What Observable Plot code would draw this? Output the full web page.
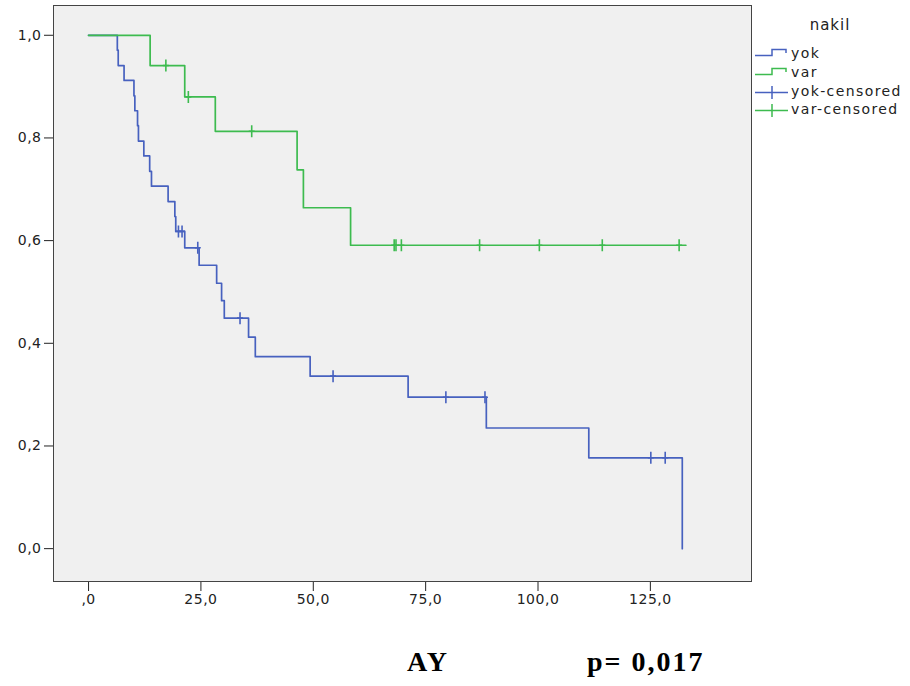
<!DOCTYPE html>
<html><head><meta charset="utf-8">
<script src="https://cdn.jsdelivr.net/npm/d3@7"></script>
<script src="https://cdn.jsdelivr.net/npm/@observablehq/plot@0.6"></script>
<style>
body{margin:0;background:#fff;}
#wrap{position:relative;width:910px;height:686px;font-family:"DejaVu Sans",sans-serif;}
#legend{position:absolute;left:750px;top:0;}
.foot{position:absolute;top:646px;font-family:"Liberation Serif","Times New Roman",serif;font-weight:bold;font-size:28px;letter-spacing:2px;color:#000;}
</style></head><body>
<div id="wrap"><div id="chart"></div>
<svg id="legend" width="160" height="130" font-family="DejaVu Sans" font-size="14" letter-spacing="1.4" fill="#222">
  <text x="80" y="30" text-anchor="middle" font-size="15" letter-spacing="1">nakil</text>
  <path d="M5,55.5H22V49.5H36V53" fill="none" stroke="#4761bf" stroke-width="1.5"/>
  <text x="41" y="58">yok</text>
  <path d="M5,74.5H22V68.5H36V72" fill="none" stroke="#3dbb4f" stroke-width="1.5"/>
  <text x="41" y="77">var</text>
  <path d="M5,92.5H38M22,86V99" fill="none" stroke="#4761bf" stroke-width="1.5"/>
  <text x="41" y="96">yok-censored</text>
  <path d="M5,110.5H38M22,104V117" fill="none" stroke="#3dbb4f" stroke-width="1.5"/>
  <text x="41" y="114">var-censored</text>
</svg>
<div class="foot" style="left:407px;">AY</div>
<div class="foot" style="left:587px;">p= 0,017</div>
</div>
<script>
// "yok" group (blue): Kaplan–Meier step points
const yokTime = [0, 6.4, 6.6, 7.9, 10.1, 10.3, 10.9, 11.1, 12.3, 13.6, 14.0, 17.7, 19.2, 19.4, 21.4, 24.6, 28.5, 29.6, 30.2, 35.6, 37.1, 49.3, 71.1, 88.5, 111.3, 132.1];
const yokSurv = [1.0, 0.971, 0.941, 0.912, 0.882, 0.853, 0.824, 0.794, 0.765, 0.735, 0.706, 0.676, 0.647, 0.618, 0.586, 0.552, 0.517, 0.483, 0.449, 0.412, 0.374, 0.336, 0.295, 0.235, 0.177, 0.0];
const yokCensTime = [20.0, 20.8, 24.3, 33.7, 54.4, 79.5, 88.2, 125.1, 128.3];
const yokCensSurv = [0.618, 0.618, 0.586, 0.449, 0.336, 0.295, 0.295, 0.177, 0.177];
// "var" group (green)
const varTime = [0, 13.7, 21.4, 28.2, 46.4, 47.8, 58.3, 132.9];
const varSurv = [1.0, 0.941, 0.880, 0.813, 0.738, 0.664, 0.591, 0.591];
const varCensTime = [17.2, 22.2, 36.3, 68.0, 68.4, 69.6, 87.0, 100.3, 114.3, 131.4];
const varCensSurv = [0.941, 0.880, 0.813, 0.591, 0.591, 0.591, 0.591, 0.591, 0.591, 0.591];
// ticks
const xTicks = [0, 25, 50, 75, 100, 125];
const yTicks = [0, 0.2, 0.4, 0.6, 0.8, 1.0];

const blue = "#4761bf", green = "#3dbb4f";
const zip = (a, b) => a.map((t, i) => ({t, s: b[i]}));
const yok = zip(yokTime, yokSurv), yokC = zip(yokCensTime, yokCensSurv);
const vr = zip(varTime, varSurv), vrC = zip(varCensTime, varCensSurv);
const comma = d => d3.format(".1f")(d).replace(".", ",");
const xFmt = d => d === 0 ? ",0" : comma(d);
const censor = {draw(ctx, size) {
  const r = Math.sqrt(size / Math.PI);
  ctx.moveTo(0, -r); ctx.lineTo(0, r);
  ctx.moveTo(-r * 0.5, 0); ctx.lineTo(r * 0.5, 0);
}};

const chart = Plot.plot({
  width: 910, height: 630,
  marginLeft: 53, marginRight: 159, marginTop: 5, marginBottom: 49,
  style: {fontFamily: "DejaVu Sans", fontSize: "14px", color: "#222", background: "transparent", letterSpacing: "0.5px"},
  x: {domain: [-7.8, 147.5], label: null},
  y: {domain: [-0.064, 1.058], label: null},
  marks: [
    Plot.frame({fill: "#f0f0f0"}),
    Plot.line(yok, {x: "t", y: "s", curve: "step-after", stroke: blue, strokeWidth: 1.7}),
    Plot.dot(yokC, {x: "t", y: "s", symbol: censor, r: 6, fill: "none", stroke: blue, strokeWidth: 1.6}),
    Plot.line(vr, {x: "t", y: "s", curve: "step-after", stroke: green, strokeWidth: 1.7}),
    Plot.dot(vrC, {x: "t", y: "s", symbol: censor, r: 6, fill: "none", stroke: green, strokeWidth: 1.6}),
    Plot.axisX({ticks: xTicks, tickFormat: xFmt, tickSize: 10, tickPadding: 3, label: null}),
    Plot.axisY({ticks: yTicks, tickFormat: comma, tickSize: 9, tickPadding: 3, label: null}),
    Plot.frame({stroke: "#444", strokeWidth: 1})
  ]
});
document.getElementById("chart").append(chart);
</script>
</body></html>
